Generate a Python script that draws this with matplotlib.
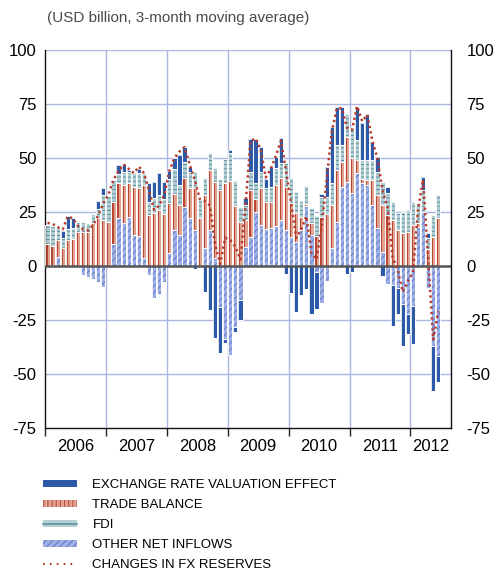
import matplotlib
matplotlib.use('Agg')
import matplotlib.pyplot as plt
import numpy as np
from matplotlib.patches import Patch
from matplotlib.lines import Line2D

plt.rcParams['font.family'] = ['Liberation Sans', 'DejaVu Sans']
plt.rcParams['axes.unicode_minus'] = False
plt.rcParams['hatch.linewidth'] = 0.7

# monthly data, Jan 2006 - Jun 2012, USD billion (3-month moving average)
other_inflows = [0, 0.5, 4.3, 0, 0, 0, 0, -4.2, -5.2, -6.2, -7.3, -9.9,
                 0, 10.2, 22.0, 20.0, 22.5, 14.4, 13.9, 3.5, -4.0, -15.0, -13.0, -7.3,
                 6.0, 16.7, 14.4, 27.5, 22.0, 16.7, 0, 8.2, 16.7, 3.5, -18.8, -34.0,
                 -41.2, -28.1, -15.7, 9.0, 13.6, 25.0, 19.0, 17.0, 17.4, 18.5, 21.3, 16.7,
                 13.6, 11.3, 16.7, 28.0, 14.4, -3.0, -16.9, -6.9, 8.2, 20.5, 36.7, 39.0,
                 34.0, 42.9, 38.3, 37.5, 28.2, 17.4, 6.6, -8.5, -8.9, -10.0, -17.7, -22.3,
                 -18.5, 18.0, 25.2, -10.0, -36.9, -41.5]
trade_balance = [10.2, 8.6, 7.7, 8.2, 12.0, 12.3, 15.9, 15.9, 15.9, 20.0, 22.0, 21.3,
                 20.5, 19.6, 16.2, 17.4, 15.7, 22.4, 22.0, 34.0, 23.6, 24.4, 26.0, 24.0,
                 23.0, 16.7, 13.9, 13.1, 13.9, 19.3, 22.0, 24.7, 27.8, 35.5, 35.0, 38.6,
                 39.4, 27.8, 20.5, 12.3, 21.6, 6.2, 17.0, 12.8, 12.3, 19.0, 19.3, 20.0,
                 15.4, 13.1, 6.2, 0.5, 5.4, 14.0, 22.8, 24.0, 20.0, 24.0, 11.6, 20.8,
                 16.0, 6.2, 2.0, 2.3, 11.6, 15.4, 21.6, 23.6, 21.3, 16.7, 15.1, 15.9,
                 19.0, 2.0, 0.0, 8.0, 13.6, 22.0]
fdi = [8.8, 9.3, 5.9, 4.6, 4.9, 5.1, 4.6, 4.6, 4.2, 4.3, 4.6, 11.6,
       12.0, 10.0, 4.6, 6.2, 5.4, 6.2, 7.0, 5.4, 6.2, 7.0, 7.0, 7.0,
       11.3, 11.4, 9.3, 7.7, 7.7, 7.7, 8.5, 7.7, 7.7, 6.2, 5.4, 10.8,
       13.1, 11.6, 7.0, 6.9, 8.5, 7.0, 7.7, 6.2, 6.9, 7.7, 7.3, 10.8,
       11.6, 10.0, 7.0, 8.5, 7.0, 9.0, 9.3, 8.0, 10.0, 11.6, 7.7, 10.8,
       14.0, 9.3, 9.0, 9.2, 9.2, 10.8, 10.8, 10.0, 8.5, 7.7, 10.0, 10.0,
       10.8, 9.0, 10.0, 5.0, 10.0, 10.9]
valuation_effect = [0, 0, 0, 3.5, 6.2, 4.6, 0, 0, 0, 0, 3.4, 3.4,
                    0, 0, 3.9, 3.5, 1.0, 0, 2.0, 0, 8.5, 7.7, 10.0, 8.0,
                    3.9, 5.0, 13.9, 6.9, 2.3, -1.5, 0, -11.9, -20.4, -33.4, -21.6, -1.5,
                    1.1, -2.3, -9.3, 3.1, 14.9, 20.6, 11.6, 4.2, 9.3, 5.4, 11.3, -3.8,
                    -12.3, -21.5, -13.4, -10.8, -22.0, -16.8, 1.2, 14.0, 26.3, 17.7, 17.8, -3.8,
                    -2.6, 15.4, 17.0, 21.6, 8.5, 6.9, -4.6, 3.1, -18.8, -12.0, -19.2, -9.2,
                    -17.7, 0, 6.2, 2.4, -20.8, -12.3]
fx_reserves = [20, 19.5, 18, 17, 23, 22, 18.5, 17, 16.5, 19, 23.5, 29,
               33, 40, 44, 47, 45, 43, 46, 43, 35, 26, 28, 33,
               44, 50, 53, 55, 47, 40, 31, 30, 28, 10, 1, 13,
               12, 9, 3, 28, 58, 59, 54, 41, 45, 51, 58, 44,
               29, 13, 17, 23, 6, 3, 18, 40, 62, 73, 73, 64,
               63, 74, 67, 70, 58, 50, 35, 27, 4, -2, -12, -7,
               -3, 26, 40, 3, -34, -21]
years = ['2006', '2007', '2008', '2009', '2010', '2011', '2012']
n_months_axis = 80

fig = plt.figure(figsize=(4.94, 5.77), dpi=100)
ax = fig.add_axes([45/494, 1-428/577, 406/494, 378/577])

x = np.arange(len(other_inflows)) + 0.5
w = 0.84

c_erv = '#2c5aa8'
c_trade, c_trade_l = '#e0a392', '#b84531'
c_fdi, c_fdi_l = '#b3cfd5', '#5f939c'
c_oth, c_oth_l = '#9eb0e4', '#6078c8'
c_line = '#b5382b'

series = [
    (other_inflows, c_oth, c_oth_l, '/////'),
    (trade_balance, c_trade, c_trade, None),
    (fdi, c_fdi, c_fdi_l, '----'),
    (valuation_effect, c_erv, c_erv, None),
]
pos = np.zeros(len(x))
neg = np.zeros(len(x))
for k, (vals, face, hc, hatch) in enumerate(series):
    v = np.array(vals, dtype=float)
    bottom = np.where(v >= 0, pos, neg)
    ax.bar(x, v, w, bottom=bottom, color=face, edgecolor=hc, hatch=hatch, lw=0, zorder=2)
    if k == 1:
        # darker stripe inside trade balance bars
        ax.bar(x - 0.12, v, 0.24, bottom=bottom, color=c_trade_l, lw=0, zorder=2.2)
    ax.bar(x, v, w, bottom=bottom, fill=False, edgecolor='white', lw=0.6, zorder=3)
    pos += np.where(v > 0, v, 0)
    neg += np.where(v < 0, v, 0)

ax.plot(x, fx_reserves, color=c_line, lw=1.8, ls=(0, (0.9, 1.3)), zorder=5)

ax.axhline(0, color='#555555', lw=1.8, zorder=4)

ax.set_xlim(0, n_months_axis)
ax.set_ylim(-75, 100)

gc = '#abb6e3'
for yv in [-50, -25, 25, 50, 75, 100]:
    ax.axhline(yv, color=gc, lw=1.0, zorder=1)
for i in range(1, len(years)):
    ax.axvline(12 * i, color=gc, lw=1.0, zorder=1)

yticks = list(range(-75, 101, 25))
ax.set_yticks(yticks)
ax.tick_params(axis='y', length=0, labelsize=12, pad=6)

ax2 = ax.twinx()
ax2.set_ylim(ax.get_ylim())
ax2.set_yticks(yticks)
ax2.tick_params(axis='y', length=0, labelsize=12, pad=11)
for s in ax2.spines.values():
    s.set_visible(False)

ax.set_xticks([12 * i for i in range(len(years))])
ax.set_xticklabels([])
ax.set_xticks([12 * i + 6 for i in range(len(years) - 1)] + [76], minor=True)
ax.set_xticklabels(years, minor=True)
ax.tick_params(axis='x', which='major', length=6, width=1, direction='out', color='#222222')
ax.tick_params(axis='x', which='minor', length=0, labelsize=12, pad=8)

for s in ['left', 'right', 'bottom']:
    ax.spines[s].set_color('#111111')
    ax.spines[s].set_linewidth(1.0)
ax.spines['top'].set_visible(False)

fig.text(47/494, 1-18/577, '(USD billion, 3-month moving average)', fontsize=11,
         color='#4a4a4a', va='center', ha='left')

handles = [
    Patch(facecolor=c_erv, lw=0),
    Patch(facecolor=c_trade, edgecolor=c_trade_l, hatch='||||', lw=0),
    (Patch(facecolor=c_fdi, lw=0), Line2D([], [], color=c_fdi_l, lw=1.2)),
    Patch(facecolor=c_oth, edgecolor=c_oth_l, hatch='/////', lw=0),
    Line2D([], [], color=c_line, lw=1.5, ls=(0, (0.8, 2.5))),
]
labels = ['EXCHANGE RATE VALUATION EFFECT', 'TRADE BALANCE', 'FDI',
          'OTHER NET INFLOWS', 'CHANGES IN FX RESERVES']
fig.legend(handles, labels, loc='upper left', bbox_to_anchor=(43/494, 1-479/577),
           frameon=False, borderpad=0, borderaxespad=0, handlelength=2.6,
           handleheight=0.45, handletextpad=1.15, labelspacing=0.6,
           prop={'size': 9.5})

fig.savefig('out.png', dpi=100)
